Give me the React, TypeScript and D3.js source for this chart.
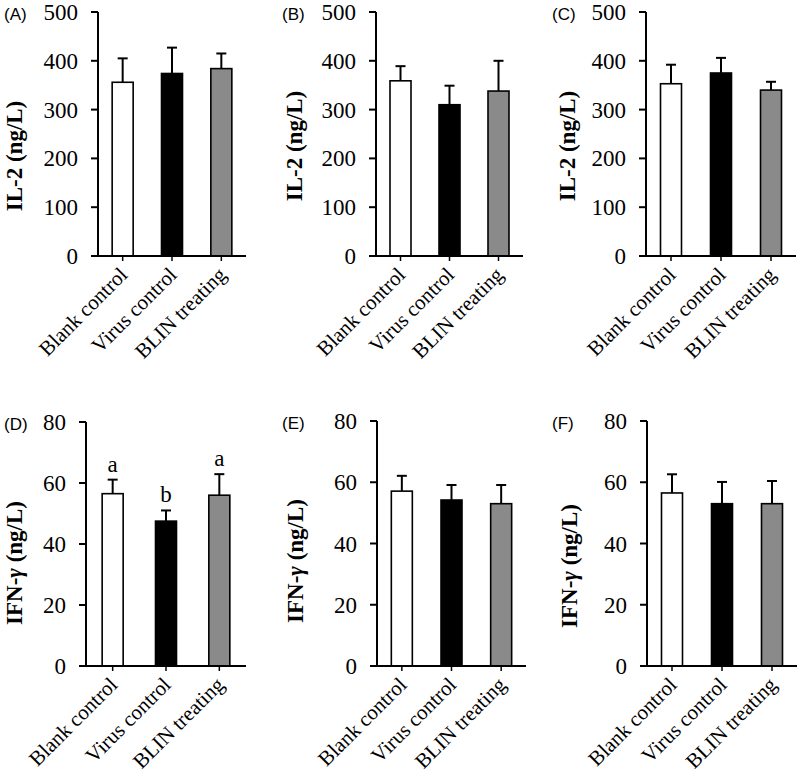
import React from "react";
import * as d3 from "d3";

const categories = ["Blank control", "Virus control", "BLIN treating"];
const fills = ["#ffffff", "#000000", "#8a8a8a"];

const il2A = [356, 374, 384];
const il2AErr = [49, 53, 31];
const il2B = [359, 310, 338];
const il2BErr = [30, 39, 62];
const il2C = [353, 375, 340];
const il2CErr = [39, 31, 17];

const ifnD = [56.5, 47.5, 56];
const ifnDErr = [4.6, 3.5, 6.9];
const ifnE = [57.1, 54.2, 53];
const ifnEErr = [5, 4.9, 6.1];
const ifnF = [56.5, 53, 53];
const ifnFErr = [6.1, 7.1, 7.4];

const lettersD = ["a", "b", "a"];

const il2Ticks = [0, 100, 200, 300, 400, 500];
const ifnTicks = [0, 20, 40, 60, 80];

type Panel = {
  tag: string;
  values: number[];
  errs: number[];
  letters?: string[];
  max: number;
  ticks: number[];
  ylabel: React.ReactNode;
  x0: number;
  x1: number;
  yTop: number;
  yZero: number;
  tagX: number;
  labelX: number;
  labelY: number;
};

const il2Label = "IL-2 (ng/L)";
const ifnLabel = (
  <>
    IFN-<tspan fontStyle="italic">γ</tspan> (ng/L)
  </>
);

const panels: Panel[] = [
  { tag: "(A)", values: il2A, errs: il2AErr, max: 500, ticks: il2Ticks, ylabel: il2Label, x0: 98, x1: 246, yTop: 12, yZero: 256, tagX: 4, labelX: 22, labelY: 156 },
  { tag: "(B)", values: il2B, errs: il2BErr, max: 500, ticks: il2Ticks, ylabel: il2Label, x0: 376, x1: 523, yTop: 12, yZero: 256, tagX: 282, labelX: 302, labelY: 146 },
  { tag: "(C)", values: il2C, errs: il2CErr, max: 500, ticks: il2Ticks, ylabel: il2Label, x0: 646, x1: 796, yTop: 12, yZero: 256, tagX: 552, labelX: 575, labelY: 146 },
  { tag: "(D)", values: ifnD, errs: ifnDErr, letters: lettersD, max: 80, ticks: ifnTicks, ylabel: ifnLabel, x0: 86, x1: 246, yTop: 422, yZero: 666, tagX: 4, labelX: 22, labelY: 563 },
  { tag: "(E)", values: ifnE, errs: ifnEErr, max: 80, ticks: ifnTicks, ylabel: ifnLabel, x0: 377, x1: 526, yTop: 421, yZero: 666, tagX: 282, labelX: 303, labelY: 561 },
  { tag: "(F)", values: ifnF, errs: ifnFErr, max: 80, ticks: ifnTicks, ylabel: ifnLabel, x0: 647, x1: 797, yTop: 421, yZero: 666, tagX: 552, labelX: 577, labelY: 566 },
];

const serif = "'Liberation Serif', 'Times New Roman', serif";
const sans = "'Liberation Sans', Arial, sans-serif";
const BAR_W = 21;
const CAP = 10;

function PanelView({ p }: { p: Panel }) {
  const x = d3.scalePoint<string>().domain(categories).range([p.x0, p.x1]).padding(0.5);
  const y = d3.scaleLinear().domain([0, p.max]).range([p.yZero, p.yTop]);
  return (
    <g>
      <text x={p.tagX} y={p.yTop + 8} fontFamily={sans} fontSize={17}>
        {p.tag}
      </text>
      <text
        transform={`translate(${p.labelX},${p.labelY}) rotate(-90)`}
        textAnchor="middle"
        fontFamily={serif}
        fontWeight="bold"
        fontSize={23}
      >
        {p.ylabel}
      </text>
      {categories.map((c, i) => {
        const cx = x(c)!;
        const top = y(p.values[i]);
        const et = y(p.values[i] + p.errs[i]);
        return (
          <g key={c}>
            <line x1={cx} x2={cx} y1={top} y2={et} stroke="#000" strokeWidth={2} />
            <line x1={cx - CAP / 2} x2={cx + CAP / 2} y1={et} y2={et} stroke="#000" strokeWidth={2} />
            <rect
              x={cx - BAR_W / 2}
              y={top}
              width={BAR_W}
              height={p.yZero - top}
              fill={fills[i]}
              stroke="#000"
              strokeWidth={1.6}
            />
            {p.letters && (
              <text x={cx} y={et - 8} textAnchor="middle" fontFamily={serif} fontSize={23}>
                {p.letters[i]}
              </text>
            )}
          </g>
        );
      })}
      <line x1={p.x0} x2={p.x0} y1={p.yTop} y2={p.yZero} stroke="#000" strokeWidth={2} />
      {p.ticks.map((t) => (
        <g key={t}>
          <line x1={p.x0 - 7} x2={p.x0} y1={y(t)} y2={y(t)} stroke="#000" strokeWidth={2} />
          <text
            x={p.x0 - 20}
            y={y(t)}
            dy="0.35em"
            textAnchor="end"
            fontFamily={serif}
            fontSize={23}
          >
            {t}
          </text>
        </g>
      ))}
      <line x1={p.x0} x2={p.x1} y1={p.yZero} y2={p.yZero} stroke="#000" strokeWidth={2} />
      {categories.map((c) => {
        const cx = x(c)!;
        return (
          <g key={c}>
            <line x1={cx} x2={cx} y1={p.yZero} y2={p.yZero + 5} stroke="#000" strokeWidth={1.5} />
            <text
              transform={`translate(${cx + 6},${p.yZero + 20}) rotate(-45)`}
              textAnchor="end"
              fontFamily={serif}
              fontSize={21}
            >
              {c}
            </text>
          </g>
        );
      })}
    </g>
  );
}

export default function App() {
  return (
    <svg
      width={800}
      height={784}
      style={{ position: "absolute", left: 0, top: 0, background: "#fff" }}
    >
      <rect width={800} height={784} fill="#fff" />
      {panels.map((p) => (
        <PanelView key={p.tag} p={p} />
      ))}
    </svg>
  );
}
